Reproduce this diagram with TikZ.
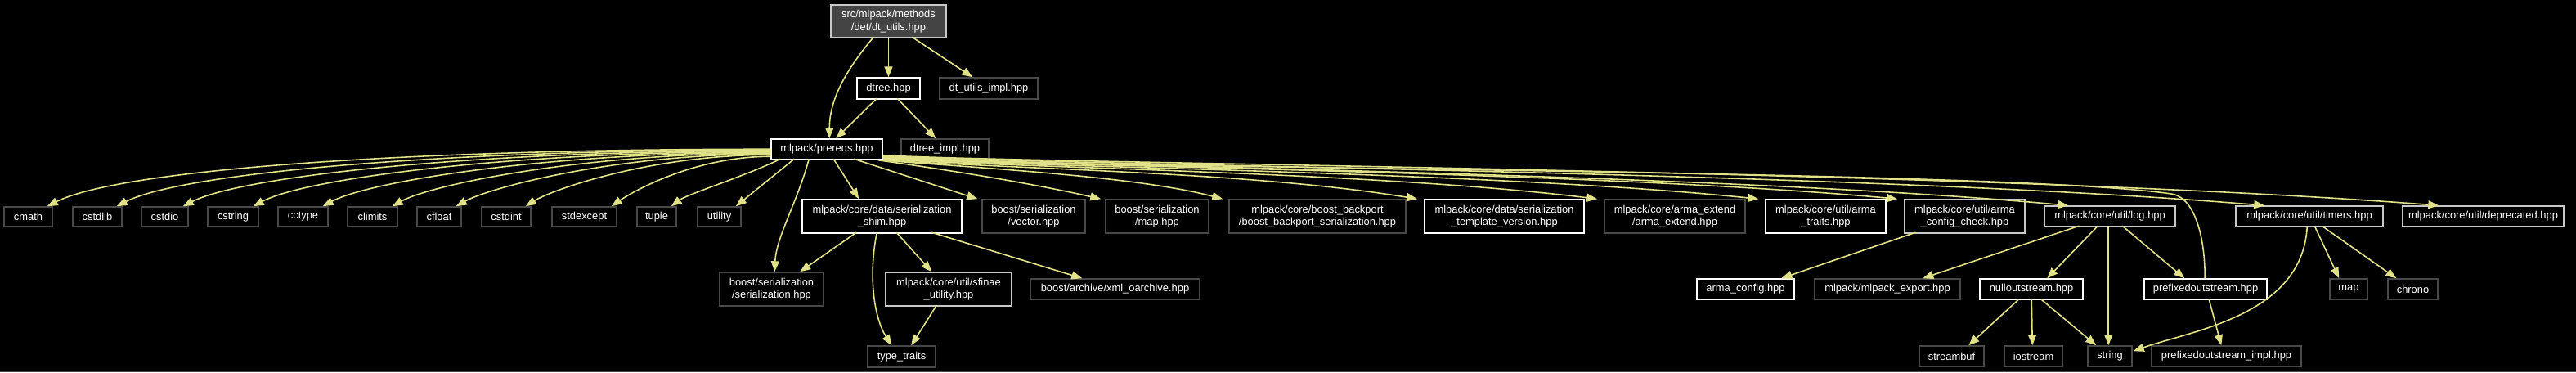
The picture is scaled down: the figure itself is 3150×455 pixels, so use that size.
\documentclass[tikz,border=0pt]{standalone}
\usepackage{fontspec}
\setmainfont{Liberation Sans}
\usetikzlibrary{arrows.meta,calc}
\definecolor{edgec}{RGB}{225,225,135}
\definecolor{darkb}{RGB}{72,72,72}
\definecolor{lightb}{RGB}{200,200,200}
\definecolor{mainfill}{RGB}{68,68,68}
\newcommand\dxnode[7]{\node[#6, minimum width={(#3)-(#2)}, minimum height={(#5)-(#4)}] (#1) at ({((#2)+(#3))/2},{((#4)+(#5))/2}) {#7};}
\tikzset{
 nbox/.style={draw, fill=black, line width=1.5pt, inner sep=0pt, align=center, text=white, font=\fontsize{12.9}{15.5}\selectfont},
 wb/.style={nbox, draw=white},
 gb/.style={nbox, draw=darkb},
 lb/.style={nbox, draw=lightb},
 lnk/.style={draw=edgec, line width=1.6pt, -{Triangle[length=13pt,width=10pt]}, fill=none},
}
\begin{document}
\begin{tikzpicture}[x=1pt,y=-1pt]
\fill[black] (0,0) rectangle (3150,455);
\useasboundingbox (0,0) rectangle (3150,455);
\fill[darkb] (0,452.5) rectangle (3150,455);
% top
\dxnode{dtu}{1016}{1157}{6}{46}{lb,fill=mainfill}{src/mlpack/methods\\/det/dt\_utils.hpp}
\dxnode{dtree}{1048}{1125}{95}{121}{wb}{dtree.hpp}
\dxnode{dtui}{1149}{1269}{95}{121}{gb}{dt\_utils\_impl.hpp}
\dxnode{pre}{943}{1079}{170}{195}{wb}{mlpack/prereqs.hpp}
\dxnode{dti}{1102}{1209}{170}{195}{gb}{dtree\_impl.hpp}
% std row
\dxnode{cmath}{5}{64}{253}{277}{gb}{cmath}
\dxnode{cstdlib}{89}{149}{253}{277}{gb}{cstdlib}
\dxnode{cstdio}{173}{230}{253}{277}{gb}{cstdio}
\dxnode{cstring}{254}{316}{253}{277}{gb}{cstring}
\dxnode{cctype}{340}{401}{253}{277}{gb}{cctype}
\dxnode{climits}{425}{486}{253}{277}{gb}{climits}
\dxnode{cfloat}{510}{564}{253}{277}{gb}{cfloat}
\dxnode{cstdint}{589}{649}{253}{277}{gb}{cstdint}
\dxnode{stdexcept}{675}{754}{253}{277}{gb}{stdexcept}
\dxnode{tuple}{779}{827}{253}{277}{gb}{tuple}
\dxnode{utility}{853}{906}{253}{277}{gb}{utility}
% two-line row
\dxnode{shim}{981}{1176}{244}{285}{wb}{mlpack/core/data/serialization\\\_shim.hpp}
\dxnode{vec}{1201}{1327}{244}{285}{gb}{boost/serialization\\/vector.hpp}
\dxnode{map}{1352}{1478}{244}{285}{gb}{boost/serialization\\/map.hpp}
\dxnode{bbp}{1503}{1719}{244}{285}{gb}{mlpack/core/boost\_backport\\/boost\_backport\_serialization.hpp}
\dxnode{stv}{1742}{1937}{244}{285}{wb}{mlpack/core/data/serialization\\\_template\_version.hpp}
\dxnode{ae}{1962}{2134}{244}{285}{gb}{mlpack/core/arma\_extend\\/arma\_extend.hpp}
\dxnode{at}{2159}{2306}{244}{285}{wb}{mlpack/core/util/arma\\\_traits.hpp}
\dxnode{acc}{2329}{2476}{244}{285}{lb}{mlpack/core/util/arma\\\_config\_check.hpp}
\dxnode{log}{2500}{2660}{252}{277}{lb}{mlpack/core/util/log.hpp}
\dxnode{timers}{2734}{2914}{252}{277}{lb}{mlpack/core/util/timers.hpp}
\dxnode{depr}{2938}{3135}{252}{277}{lb}{mlpack/core/util/deprecated.hpp}
% third row
\dxnode{ser}{880}{1007}{333}{374}{gb}{boost/serialization\\/serialization.hpp}
\dxnode{sfinae}{1083}{1237}{333}{374}{lb}{mlpack/core/util/sfinae\\\_utility.hpp}
\dxnode{xml}{1260}{1467}{341}{366}{gb}{boost/archive/xml\_oarchive.hpp}
\dxnode{ac}{2075}{2194}{341}{366}{wb}{arma\_config.hpp}
\dxnode{exp}{2219}{2397}{341}{366}{gb}{mlpack/mlpack\_export.hpp}
\dxnode{null}{2421}{2547}{341}{366}{wb}{nulloutstream.hpp}
\dxnode{pref}{2622}{2772}{341}{366}{wb}{prefixedoutstream.hpp}
\dxnode{mapstd}{2849}{2895}{341}{366}{gb}{map}
\dxnode{chrono}{2920}{2981}{341}{366}{gb}{chrono}
% fourth row
\dxnode{tt}{1061}{1144}{423}{449}{gb}{type\_traits}
\dxnode{sbuf}{2347}{2426}{423}{448}{gb}{streambuf}
\dxnode{ios}{2451}{2522}{423}{448}{gb}{iostream}
\dxnode{str}{2553}{2607}{423}{448}{gb}{string}
\dxnode{pimpl}{2631}{2814}{423}{448}{gb}{prefixedoutstream\_impl.hpp}

% edges from dt_utils and dtree
\draw[lnk] ($(dtu.north west)+(53,40)$) .. controls +(-24,29) and +(0,-55) .. ($(pre.north west)+(72,0)$);
\draw[lnk] (dtu.south) -- (dtree.north);
\draw[lnk] ($(dtu.north west)+(100,40)$) -- ($(dtui.north west)+(41,0)$);
\draw[lnk] ($(dtree.north west)+(25,26)$) -- ($(pre.north west)+(80,0)$);
\draw[lnk] ($(dtree.north west)+(50,26)$) -- ($(dti.north west)+(43,0)$);

% prereqs to std headers
\draw[lnk] ($(pre.north west)+(0,13)$) .. controls +(-443,0) and +(89,-45) .. ([xshift=-7pt]cmath.north east);
\draw[lnk] ($(pre.north west)+(0,14)$) .. controls +(-400,0) and +(80,-41) .. ([xshift=-7pt]cstdlib.north east);
\draw[lnk] ($(pre.north west)+(0,15)$) .. controls +(-360,0) and +(72,-37) .. ([xshift=-7pt]cstdio.north east);
\draw[lnk] ($(pre.north west)+(0,16)$) .. controls +(-317,0) and +(63,-34) .. ([xshift=-7pt]cstring.north east);
\draw[lnk] ($(pre.north west)+(0,17)$) .. controls +(-275,0) and +(55,-30) .. ([xshift=-7pt]cctype.north east);
\draw[lnk] ($(pre.north west)+(0,18)$) .. controls +(-232,0) and +(46,-26) .. ([xshift=-7pt]climits.north east);
\draw[lnk] ($(pre.north west)+(0,19)$) .. controls +(-193,0) and +(39,-22) .. ([xshift=-7pt]cfloat.north east);
\draw[lnk] ($(pre.north west)+(0,20)$) .. controls +(-150,0) and +(30,-19) .. ([xshift=-7pt]cstdint.north east);
\draw[lnk] ($(pre.north west)+(0,22)$) .. controls +(-98,0) and +(20,-14) .. ([xshift=-7pt]stdexcept.north east);
\draw[lnk] ($(pre.north west)+(12,25)$) .. controls +(-40,20) and +(20,-15) .. ([xshift=-7pt]tuple.north east);
\draw[lnk] ($(pre.north west)+(29,25)$) -- ([xshift=-7pt]utility.north east);

% prereqs to the middle and right
\draw[lnk] ($(pre.north west)+(77,25)$) -- ($(shim.north west)+(70,0)$);
\draw[lnk] ($(pre.north west)+(47,25)$) .. controls +(-15,55) and +(2,-43) .. ($(ser.north west)+(68,0)$);
\draw[lnk] ($(pre.north west)+(102,25)$) -- ([xshift=-5pt]vec.north west);
\draw[lnk] ($(pre.south east)+(-6,0)$) .. controls +(100,14) and +(-80,-18) .. ([xshift=-5pt]map.north west);
\draw[lnk] ($(pre.south east)+(-4,0)$) .. controls +(160,12) and +(-100,-26) .. ([xshift=-7pt]bbp.north west);
\draw[lnk] ($(pre.south east)+(-2,0)$) .. controls +(200,12) and +(-197,-32) .. ([xshift=-8pt]stv.north west);
\draw[lnk] ($(pre.south east)+(0,-1)$) .. controls +(200,11) and +(-263,-32) .. ([xshift=-8pt]ae.north west);
\draw[lnk] ($(pre.south east)+(0,-2)$) .. controls +(200,11) and +(-322,-33) .. ([xshift=-8pt]at.north west);
\draw[lnk] ($(pre.south east)+(0,-3)$) .. controls +(200,11) and +(-373,-34) .. ([xshift=-8pt]acc.north west);
\draw[lnk] ($(pre.south east)+(0,-4)$) .. controls +(200,11) and +(-436,-40) .. ([xshift=30pt]log.north west);
\draw[lnk] ($(pre.south east)+(0,-5)$) .. controls +(200,11) and +(-508,-42) .. ([xshift=36pt]timers.north west);
\draw[lnk] ($(pre.south east)+(0,-6)$) .. controls +(200,11) and +(-572,-44) .. ([xshift=45pt]depr.north west);

% serialization shim
\draw[lnk] ($(shim.north west)+(67,41)$) -- ($(ser.north west)+(99,0)$);
\draw[lnk] ($(shim.north west)+(92,41)$) .. controls +(-11,55) and +(-21,-33) .. ($(tt.north west)+(30,0)$);
\draw[lnk] ($(shim.north west)+(116,41)$) -- ($(sfinae.north west)+(57,0)$);
\draw[lnk] ($(shim.north west)+(159,41)$) -- ($(xml.north west)+(64,0)$);
\draw[lnk] ($(sfinae.north west)+(63,41)$) -- ($(tt.north west)+(54,0)$);

% right part
\draw[lnk] ($(acc.north west)+(14,41)$) -- ($(ac.north west)+(104,0)$);
\draw[lnk] ($(log.north west)+(43,25)$) -- ($(exp.north west)+(133,0)$);
\draw[lnk] ($(log.north west)+(66,25)$) -- ($(null.north west)+(83,0)$);
\draw[lnk] ($(log.north west)+(79,25)$) -- ($(str.north west)+(26,0)$);
\draw[lnk] ($(log.north west)+(96,25)$) -- ($(pref.north west)+(50,0)$);
\draw[lnk] ($(null.north west)+(48,26)$) -- ($(sbuf.north west)+(61,0)$);
\draw[lnk] ($(null.north west)+(64,26)$) -- ($(ios.north west)+(35,0)$);
\draw[lnk] ($(null.north west)+(76,26)$) -- ($(str.north west)+(11,0)$);
\draw[lnk] ($(pref.north west)+(80,26)$) -- ($(pimpl.north west)+(86,0)$);
\draw[lnk] ($(timers.north west)+(97,25)$) -- ($(mapstd.north west)+(12,0)$);
\draw[lnk] ($(timers.north west)+(106,25)$) -- ($(chrono.north west)+(11,0)$);
\draw[lnk] ($(timers.north west)+(88,25)$) .. controls +(-5,110) and +(70,-25) .. ($(str.north east)+(1,7)$);

% back edge prefixedoutstream -> prereqs
\coordinate (bend) at (2655,237);
\draw[lnk] ($(pref.north west)+(75,0)$) .. controls +(0,-60) and +(25,3) .. (bend) .. controls +(-205,-30) and +(260,14) .. ($(pre.south east)+(2,-3)$);
\end{tikzpicture}
\end{document}
